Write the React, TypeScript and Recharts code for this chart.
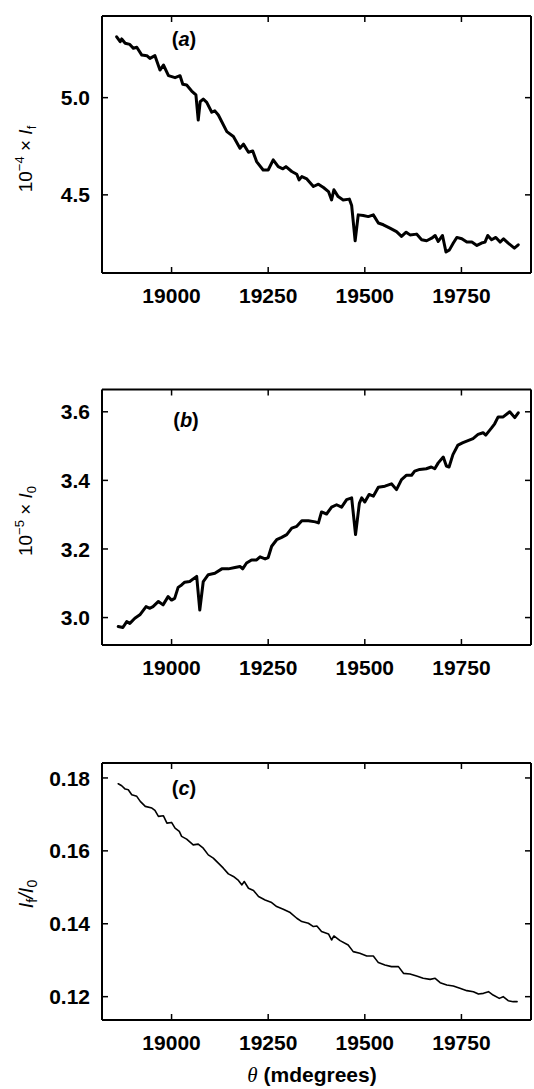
import React from 'react';
import { LineChart, Line, XAxis, YAxis } from 'recharts';

// ---- Data ----
const thetaA = [18858, 18867, 18871, 18880, 18892, 18901, 18910, 18923, 18936, 18944, 18957, 18970, 18979, 18992, 19009, 19022, 19029, 19039, 19052, 19063, 19069, 19074, 19082, 19091, 19104, 19112, 19121, 19143, 19160, 19177, 19186, 19199, 19210, 19220, 19237, 19250, 19263, 19276, 19288, 19296, 19311, 19324, 19330, 19337, 19350, 19367, 19380, 19393, 19406, 19414, 19420, 19431, 19444, 19460, 19466, 19475, 19483, 19496, 19509, 19522, 19535, 19548, 19565, 19582, 19595, 19607, 19617, 19634, 19647, 19660, 19673, 19682, 19690, 19701, 19710, 19719, 19729, 19738, 19751, 19764, 19777, 19790, 19802, 19811, 19818, 19828, 19839, 19850, 19859, 19871, 19887, 19897];
const fluorA = [5.313, 5.288, 5.302, 5.28, 5.274, 5.254, 5.259, 5.219, 5.216, 5.202, 5.216, 5.142, 5.168, 5.113, 5.103, 5.113, 5.069, 5.065, 5.034, 5.014, 4.885, 4.979, 4.993, 4.976, 4.925, 4.932, 4.911, 4.825, 4.8, 4.74, 4.761, 4.719, 4.726, 4.671, 4.628, 4.628, 4.68, 4.645, 4.634, 4.645, 4.62, 4.606, 4.577, 4.594, 4.582, 4.543, 4.555, 4.538, 4.517, 4.474, 4.526, 4.491, 4.474, 4.478, 4.445, 4.264, 4.397, 4.394, 4.388, 4.397, 4.355, 4.346, 4.329, 4.311, 4.286, 4.308, 4.294, 4.298, 4.269, 4.264, 4.277, 4.291, 4.26, 4.291, 4.206, 4.217, 4.252, 4.281, 4.274, 4.257, 4.257, 4.24, 4.252, 4.257, 4.291, 4.269, 4.281, 4.257, 4.274, 4.252, 4.226, 4.243];

const thetaB = [18862, 18874, 18884, 18892, 18905, 18918, 18934, 18944, 18952, 18966, 18978, 18991, 19000, 19008, 19017, 19026, 19034, 19047, 19065, 19073, 19082, 19095, 19112, 19130, 19147, 19164, 19177, 19184, 19194, 19207, 19220, 19229, 19242, 19250, 19259, 19272, 19285, 19298, 19311, 19324, 19337, 19354, 19372, 19380, 19388, 19401, 19414, 19427, 19440, 19453, 19466, 19476, 19486, 19492, 19500, 19511, 19522, 19535, 19552, 19569, 19582, 19595, 19608, 19621, 19629, 19642, 19659, 19672, 19681, 19690, 19703, 19711, 19718, 19728, 19741, 19754, 19767, 19780, 19793, 19806, 19813, 19828, 19836, 19845, 19858, 19875, 19888, 19897];
const incidentB = [2.974, 2.971, 2.988, 2.983, 2.998, 3.008, 3.032, 3.027, 3.032, 3.047, 3.037, 3.061, 3.051, 3.056, 3.088, 3.095, 3.103, 3.105, 3.12, 3.022, 3.105, 3.125, 3.129, 3.142, 3.142, 3.146, 3.149, 3.142, 3.159, 3.168, 3.168, 3.177, 3.171, 3.175, 3.208, 3.227, 3.234, 3.242, 3.261, 3.266, 3.282, 3.282, 3.279, 3.276, 3.308, 3.302, 3.322, 3.329, 3.322, 3.344, 3.349, 3.242, 3.334, 3.349, 3.337, 3.359, 3.354, 3.38, 3.383, 3.39, 3.373, 3.402, 3.415, 3.415, 3.427, 3.432, 3.434, 3.439, 3.434, 3.451, 3.468, 3.442, 3.439, 3.475, 3.503, 3.51, 3.516, 3.522, 3.534, 3.539, 3.532, 3.553, 3.565, 3.585, 3.585, 3.6, 3.583, 3.597];

const thetaC = [18862, 18871, 18880, 18888, 18897, 18910, 18919, 18932, 18949, 18957, 18966, 18979, 18988, 19000, 19009, 19020, 19026, 19039, 19056, 19069, 19082, 19095, 19108, 19121, 19134, 19147, 19160, 19173, 19182, 19188, 19199, 19212, 19225, 19242, 19259, 19272, 19289, 19307, 19324, 19337, 19354, 19367, 19376, 19388, 19406, 19414, 19420, 19436, 19457, 19470, 19487, 19505, 19522, 19535, 19552, 19569, 19587, 19600, 19617, 19634, 19651, 19669, 19682, 19695, 19712, 19729, 19746, 19764, 19781, 19794, 19807, 19820, 19832, 19848, 19858, 19871, 19884, 19894];
const ratioC = [0.17841, 0.17786, 0.17695, 0.17676, 0.17538, 0.17495, 0.17357, 0.1722, 0.17173, 0.1711, 0.16945, 0.16962, 0.16761, 0.1678, 0.16624, 0.16533, 0.16396, 0.16321, 0.16165, 0.16184, 0.16074, 0.1589, 0.158, 0.15662, 0.15525, 0.15368, 0.15297, 0.15187, 0.15066, 0.15159, 0.14975, 0.14912, 0.14747, 0.14654, 0.14582, 0.14473, 0.14398, 0.14308, 0.14151, 0.1406, 0.14014, 0.13923, 0.1394, 0.13786, 0.1372, 0.13555, 0.13665, 0.13538, 0.13418, 0.13236, 0.1319, 0.13115, 0.13115, 0.12934, 0.12868, 0.12824, 0.12824, 0.1264, 0.12621, 0.12566, 0.12503, 0.12475, 0.12503, 0.12385, 0.12319, 0.12291, 0.12228, 0.12165, 0.12137, 0.12071, 0.12091, 0.12137, 0.12044, 0.11953, 0.12, 0.1189, 0.11863, 0.11863];

const xTicks = [19000, 19250, 19500, 19750];
const xDomain = [18820, 19930];
const yTicksA = [4.5, 5.0];
const yTicksB = [3.0, 3.2, 3.4, 3.6];
const yTicksC = [0.12, 0.14, 0.16, 0.18];

const dataA = thetaA.map((t, i) => ({ t, v: fluorA[i] }));
const dataB = thetaB.map((t, i) => ({ t, v: incidentB[i] }));
const dataC = thetaC.map((t, i) => ({ t, v: ratioC[i] }));

const FONT = '"Liberation Sans", Arial, Helvetica, sans-serif';
const TICK_FS = 21;
const TICK_LEN = 6;
const X_MARGIN = 15;
const Y_MARGIN = 12;

const bottomTick = (props: any) => {
  const { x, y, payload } = props;
  const axisY = y - X_MARGIN;
  return (
    <g>
      <line x1={x} y1={axisY} x2={x} y2={axisY - TICK_LEN} stroke="#000" strokeWidth={1.5} />
      <text x={x} y={y} dy="0.71em" textAnchor="middle" fontFamily={FONT} fontSize={TICK_FS} fontWeight="bold" fill="#000">
        {String(payload.value)}
      </text>
    </g>
  );
};

const topTick = (props: any) => {
  const { x, y } = props;
  return <line x1={x} y1={y} x2={x} y2={y + TICK_LEN} stroke="#000" strokeWidth={1.5} />;
};

const rightTick = (props: any) => {
  const { x, y } = props;
  return <line x1={x} y1={y} x2={x - TICK_LEN} y2={y} stroke="#000" strokeWidth={1.5} />;
};

const makeLeftTick = (digits: number) => (props: any) => {
  const { x, y, payload } = props;
  const axisX = x + Y_MARGIN;
  return (
    <g>
      <line x1={axisX} y1={y} x2={axisX + TICK_LEN} y2={y} stroke="#000" strokeWidth={1.5} />
      <text x={x} y={y} dy="0.36em" textAnchor="end" fontFamily={FONT} fontSize={TICK_FS} fontWeight="bold" fill="#000">
        {Number(payload.value).toFixed(digits)}
      </text>
    </g>
  );
};

type PanelProps = {
  data: { t: number; v: number }[];
  height: number;
  plotTop: number;
  plotBottom: number;
  yDomain: number[];
  yTicks: number[];
  digits: number;
  strokeWidth: number;
};

function Panel({ data, height, plotTop, plotBottom, yDomain, yTicks, digits, strokeWidth }: PanelProps) {
  const xAxisHeight = height - plotBottom;
  return (
    <LineChart width={534} height={height} data={data} margin={{ top: plotTop - 1, right: 2, bottom: 0, left: 42 }}>
      <XAxis
        dataKey="t"
        type="number"
        domain={xDomain}
        ticks={xTicks}
        allowDataOverflow
        height={xAxisHeight}
        tickSize={0}
        tickMargin={X_MARGIN}
        tickLine={false}
        axisLine={{ stroke: '#000', strokeWidth: 2 }}
        tick={bottomTick}
        interval={0}
      />
      <XAxis
        xAxisId="top"
        orientation="top"
        dataKey="t"
        type="number"
        domain={xDomain}
        ticks={xTicks}
        allowDataOverflow
        height={1}
        tickSize={0}
        tickMargin={0}
        tickLine={false}
        axisLine={{ stroke: '#000', strokeWidth: 2 }}
        tick={topTick}
        interval={0}
      />
      <YAxis
        type="number"
        domain={yDomain}
        ticks={yTicks}
        allowDataOverflow
        width={60}
        tickSize={0}
        tickMargin={Y_MARGIN}
        tickLine={false}
        axisLine={{ stroke: '#000', strokeWidth: 2 }}
        tick={makeLeftTick(digits)}
        interval={0}
      />
      <YAxis
        yAxisId="right"
        orientation="right"
        type="number"
        domain={yDomain}
        ticks={yTicks}
        allowDataOverflow
        width={1}
        tickSize={0}
        tickMargin={0}
        tickLine={false}
        axisLine={{ stroke: '#000', strokeWidth: 2 }}
        tick={rightTick}
        interval={0}
      />
      <Line
        type="linear"
        dataKey="v"
        stroke="#000"
        strokeWidth={strokeWidth}
        strokeLinejoin="round"
        strokeLinecap="round"
        dot={false}
        activeDot={false}
        isAnimationActive={false}
      />
    </LineChart>
  );
}

export default function App() {
  const TFS = 19;
  const SUBFS = 13;
  return (
    <div style={{ position: 'absolute', left: 0, top: 0, width: 534, height: 1089, background: '#fff', overflow: 'hidden' }}>
      <div style={{ position: 'absolute', left: 0, top: 0 }}>
        <Panel data={dataA} height={310} plotTop={16} plotBottom={273} yDomain={[4.098, 5.42]} yTicks={yTicksA} digits={1} strokeWidth={3} />
      </div>
      <div style={{ position: 'absolute', left: 0, top: 360 }}>
        <Panel data={dataB} height={320} plotTop={29.5} plotBottom={285} yDomain={[2.92, 3.665]} yTicks={yTicksB} digits={1} strokeWidth={3} />
      </div>
      <div style={{ position: 'absolute', left: 0, top: 730 }}>
        <Panel data={dataC} height={359} plotTop={33} plotBottom={290} yDomain={[0.1136, 0.1841]} yTicks={yTicksC} digits={2} strokeWidth={1.6} />
      </div>
      <svg width={534} height={1089} style={{ position: 'absolute', left: 0, top: 0, pointerEvents: 'none' }}>
        <g fontFamily={FONT} fill="#000">
          {/* panel labels */}
          <text x={184} y={39} dy="0.36em" textAnchor="middle" fontSize={20} fontWeight="bold">
            (<tspan fontStyle="italic">a</tspan>)
          </text>
          <text x={186} y={420} dy="0.36em" textAnchor="middle" fontSize={20} fontWeight="bold">
            (<tspan fontStyle="italic">b</tspan>)
          </text>
          <text x={184} y={788} dy="0.36em" textAnchor="middle" fontSize={20} fontWeight="bold">
            (<tspan fontStyle="italic">c</tspan>)
          </text>
          {/* y axis titles */}
          <text transform="translate(25,159) rotate(-90)" textAnchor="middle" dy="0.36em" fontSize={TFS}>
            10<tspan dy={-8} fontSize={SUBFS}>−4</tspan>
            <tspan dy={8}> × </tspan>
            <tspan fontStyle="italic">I</tspan>
            <tspan dy={4} fontSize={SUBFS}>f</tspan>
          </text>
          <text transform="translate(25,521) rotate(-90)" textAnchor="middle" dy="0.36em" fontSize={TFS}>
            10<tspan dy={-8} fontSize={SUBFS}>−5</tspan>
            <tspan dy={8}> × </tspan>
            <tspan fontStyle="italic">I</tspan>
            <tspan dy={4} fontSize={SUBFS}>0</tspan>
          </text>
          <text transform="translate(26,894) rotate(-90)" textAnchor="middle" dy="0.36em" fontSize={20} fontStyle="italic">
            I<tspan dy={4} fontSize={14} fontStyle="normal">f</tspan>
            <tspan dy={-4}>/I</tspan>
            <tspan dy={4} fontSize={14} fontStyle="normal">0</tspan>
          </text>
          {/* x axis title */}
          <text x={312} y={1082} textAnchor="middle" fontSize={21} fontWeight="bold">
            <tspan fontFamily='"Liberation Serif", serif' fontStyle="italic" fontWeight="normal">θ</tspan> (mdegrees)
          </text>
        </g>
      </svg>
    </div>
  );
}
